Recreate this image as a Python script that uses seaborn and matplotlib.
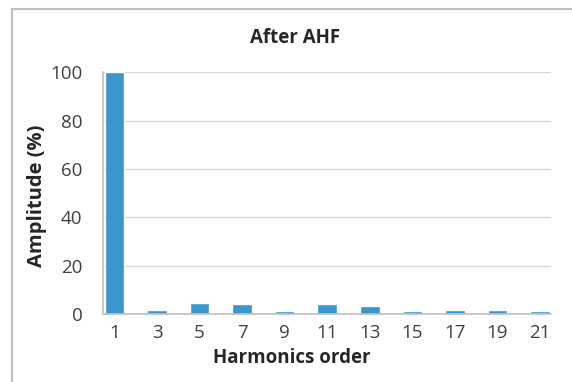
import matplotlib
matplotlib.use("Agg")
import matplotlib.pyplot as plt
from matplotlib.lines import Line2D
import seaborn as sns
import pandas as pd

# Harmonic spectrum after the active harmonic filter
orders = ["1", "3", "5", "7", "9", "11", "13", "15", "17", "19", "21"]
amplitude = [100, 1.5, 4.4, 4.0, 1.1, 4.0, 3.2, 1.1, 1.5, 1.5, 1.1]

df = pd.DataFrame({"order": orders, "amplitude": amplitude})

sns.set_theme(style="white")
plt.rcParams["font.family"] = ["Open Sans", "DejaVu Sans"]

W, H = 572, 382
fig = plt.figure(figsize=(W / 100, H / 100), dpi=100,
                 facecolor="white", edgecolor="white", linewidth=0)
ax = fig.add_axes([103 / W, 1 - 314 / H, 448 / W, (314 - 72.3) / H])

sns.barplot(data=df, x="order", y="amplitude", color="#3A96CD",
            saturation=1, width=0.46, ax=ax, zorder=3)

ax.set_ylim(0, 100)
ax.set_xlim(-0.27, 10.26)
ax.set_yticks(range(0, 101, 20))
ax.yaxis.grid(True, color="#D9D9D9", linewidth=1)
ax.set_axisbelow(True)
for s in ("top", "right"):
    ax.spines[s].set_visible(False)
for s in ("bottom", "left"):
    ax.spines[s].set_color("#BFBFBF")
    ax.spines[s].set_linewidth(1.2)
    ax.spines[s].set_zorder(4)
ax.tick_params(axis="both", labelsize=13.5, colors="#404040")
ax.tick_params(axis="x", length=0, pad=7)
ax.tick_params(axis="y", length=5.8, width=1, color="#BFBFBF", pad=9)

ax.set_xlabel("")
ax.set_ylabel("")
fig.text(37 / W, 1 - 196 / H, "Amplitude (%)", rotation=90, ha="center",
         va="center", fontsize=14.5, fontweight="bold", color="#262626")
fig.text(291.5 / W, 1 - 363 / H, "Harmonics order", ha="center",
         va="baseline", fontsize=13.5, fontweight="bold", color="#262626")
fig.text(295 / W, 1 - 43 / H, "After AHF", ha="center", va="baseline",
         fontsize=13.5, fontweight="bold", color="#262626")

# chart frame (left and top edges)
fig.add_artist(Line2D([11.5 / W, 11.5 / W], [0, 1 - 9.3 / H],
                      transform=fig.transFigure, color="#BFBFBF", lw=1.5))
fig.add_artist(Line2D([11.5 / W, 1], [1 - 9.3 / H, 1 - 9.3 / H],
                      transform=fig.transFigure, color="#BFBFBF", lw=1.5))

fig.savefig("out.png", dpi=100, facecolor="white", edgecolor="white")
